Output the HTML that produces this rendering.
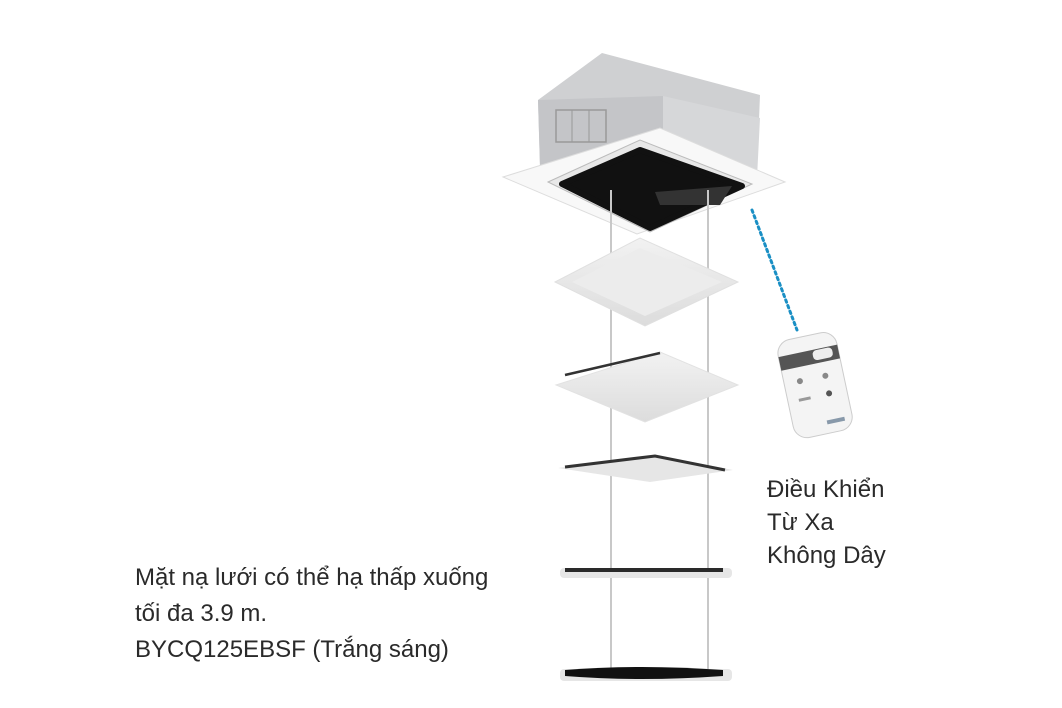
<!DOCTYPE html>
<html><head><meta charset="utf-8"><style>
html,body{margin:0;padding:0;background:#fff;}
body{width:1062px;height:708px;position:relative;overflow:hidden;font-family:"Liberation Sans","DejaVu Sans",sans-serif;}
.t{position:absolute;color:#2a2a2a;font-size:24px;}
</style></head><body>
<svg width="1062" height="708" style="position:absolute;left:0;top:0">
<defs>
<linearGradient id="g1" x1="0" x2="0" y1="0" y2="1"><stop offset="0" stop-color="#f2f2f2"/><stop offset="1" stop-color="#dcdcdc"/></linearGradient>
</defs>
<!-- box -->
<polygon points="538,100 602,53 760,95 757,170 540,165" fill="#cfd0d2"/>
<polygon points="538,100 663,96 663,170 540,168" fill="#c4c5c8"/>
<polygon points="663,96 760,118 757,178 663,170" fill="#d6d7d9"/>
<rect x="556" y="110" width="50" height="32" fill="none" stroke="#999" stroke-width="1.5"/>
<line x1="572" y1="110" x2="572" y2="142" stroke="#999"/><line x1="589" y1="110" x2="589" y2="142" stroke="#999"/>
<!-- panel -->
<polygon points="503,177 660,128 785,182 637,234" fill="#f8f8f8" stroke="#ddd"/>
<polygon points="548,182 640,140 752,184 650,232" fill="#e8e8e8" stroke="#bbb"/>
<polygon points="562,184 640,150 742,186 650,228" fill="#111" stroke="#111" stroke-width="6" stroke-linejoin="round"/>
<polygon points="655,192 732,186 720,205 660,205" fill="#333"/>
<!-- rods -->
<line x1="611" y1="190" x2="611" y2="678" stroke="#c8c8c8" stroke-width="2"/>
<line x1="708" y1="190" x2="708" y2="678" stroke="#c8c8c8" stroke-width="2"/>
<!-- panel 2 -->
<polygon points="555,282 640,238 738,282 645,326" fill="url(#g1)" stroke="#e0e0e0"/>
<polygon points="572,282 640,248 722,282 645,316" fill="#ececec"/>
<!-- panel 3 -->
<polygon points="556,385 660,352 738,385 645,422" fill="url(#g1)" stroke="#e2e2e2"/>
<line x1="565" y1="375" x2="660" y2="353" stroke="#333" stroke-width="2.5"/>
<!-- panel 4 -->
<polygon points="558,468 655,455 733,470 650,482" fill="#e6e6e6"/>
<polyline points="565,467 655,456 725,470" fill="none" stroke="#333" stroke-width="3"/>
<!-- panel 5 -->
<rect x="560" y="568" width="172" height="10" rx="4" fill="#e6e6e6"/>
<line x1="565" y1="570" x2="723" y2="570" stroke="#2a2a2a" stroke-width="4"/>
<!-- panel 6 -->
<rect x="560" y="669" width="172" height="12" rx="4" fill="#e6e6e6"/>
<path d="M565,670 Q640,664 723,670 L723,676 Q640,682 565,676 Z" fill="#111"/>
<!-- dotted -->
<line x1="752" y1="210" x2="797" y2="330" stroke="#1a8fc4" stroke-width="3" stroke-dasharray="2.5 3.5" stroke-linecap="round"/>
<!-- remote -->
<g transform="rotate(-12 815 380)">
<rect x="784" y="335" width="60" height="100" rx="14" fill="#f4f4f4" stroke="#ccc"/>
<rect x="784" y="350" width="60" height="14" fill="#555"/>
<rect x="818" y="351" width="20" height="10" rx="4" fill="#eee"/>
<circle cx="800" cy="378" r="3" fill="#888"/><circle cx="826" cy="378" r="3" fill="#888"/>
<circle cx="826" cy="396" r="3" fill="#555"/><rect x="795" y="395" width="12" height="3" fill="#999"/>
<rect x="818" y="422" width="18" height="4" fill="#8899aa"/>
</g>
</svg>
<div class="t" style="left:767px;top:473px;line-height:33px">Điều Khiển<br>Từ Xa<br>Không Dây</div>
<div class="t" style="left:135px;top:560px;line-height:36px">Mặt nạ lưới có thể hạ thấp xuống<br>tối đa 3.9 m.<br>BYCQ125EBSF (Trắng sáng)</div>
</body></html>
